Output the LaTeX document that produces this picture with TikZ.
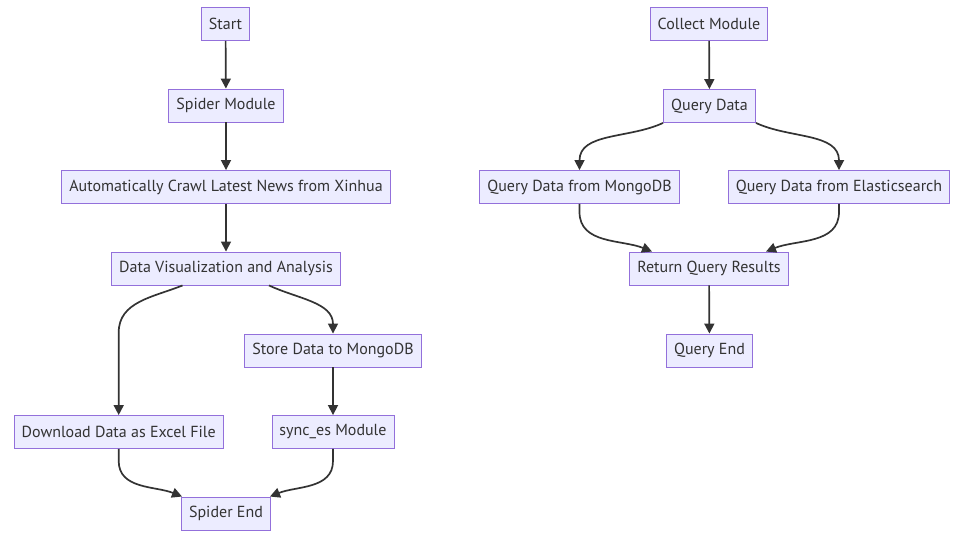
\documentclass[tikz,border=0pt]{standalone}
\usepackage{fontspec}
\setmainfont{PT Sans}
\usetikzlibrary{arrows.meta}
\definecolor{boxfill}{HTML}{ECECFF}
\definecolor{boxline}{HTML}{9370DB}
\definecolor{edgeline}{HTML}{333333}
\begin{document}
\begin{tikzpicture}[
    x=1pt, y=1pt,
    box/.style={rectangle, draw=boxline, fill=boxfill, line width=0.9pt, minimum height=33pt,
        inner xsep=7.5pt, text=edgeline, font=\fontsize{16}{19}\selectfont},
    flow/.style={draw=edgeline, line width=1.7pt, -{Triangle[length=10pt, width=10pt]}}
]
\useasboundingbox (0,0) rectangle (966,-538);
% spider side
\node[box] (start)  at (225.5,-24)   {Start};
\node[box] (spider) at (226,-105.5)  {Spider Module};
\node[box] (crawl)  at (226,-187)    {Automatically Crawl Latest News from Xinhua};
\node[box] (dva)    at (226,-268.5)  {Data Visualization and Analysis};
\node[box] (store)  at (333,-350.5)  {Store Data to MongoDB};
\node[box] (excel)  at (118.7,-432)  {Download Data as Excel File};
\node[box] (sync)   at (333,-432)    {sync\_es Module};
\node[box] (spend)  at (226,-513.5)  {Spider End};
% query side
\node[box] (collect) at (709,-24)     {Collect Module};
\node[box] (query)   at (709.5,-106)  {Query Data};
\node[box] (qmongo)  at (579.5,-187)  {Query Data from MongoDB};
\node[box] (qelastic) at (839,-187)   {Query Data from Elasticsearch};
\node[box] (result)  at (709,-268.5)  {Return Query Results};
\node[box] (qend)    at (709.5,-350.5) {Query End};

\draw[flow] (start) -- (spider);
\draw[flow] (spider) -- (crawl);
\draw[flow] (crawl) -- (dva);
\draw[flow] ([xshift=-43.5pt]dva.south) to[out=-158, in=90] ++(-63.8,-47) -- (excel.north);
\draw[flow] ([xshift=43pt]dva.south) to[out=-25, in=90] (store.north);
\draw[flow] (store) -- (sync);
\draw[flow] (excel.south) -- ++(0,-12) to[out=-90, in=158] ([xshift=-44pt]spend.north);
\draw[flow] (sync.south) -- ++(0,-12) to[out=-90, in=22] ([xshift=44pt]spend.north);

\draw[flow] (collect) -- (query);
\draw[flow] ([xshift=-46.5pt]query.south) to[out=-155, in=90] (qmongo.north);
\draw[flow] ([xshift=46.5pt]query.south) to[out=-25, in=90] (qelastic.north);
\draw[flow] (qmongo.south) -- ++(0,-8) to[out=-90, in=158] ([xshift=-57pt]result.north);
\draw[flow] (qelastic.south) -- ++(0,-8) to[out=-90, in=22] ([xshift=57pt]result.north);
\draw[flow] (result) -- (qend);
\end{tikzpicture}
\end{document}
